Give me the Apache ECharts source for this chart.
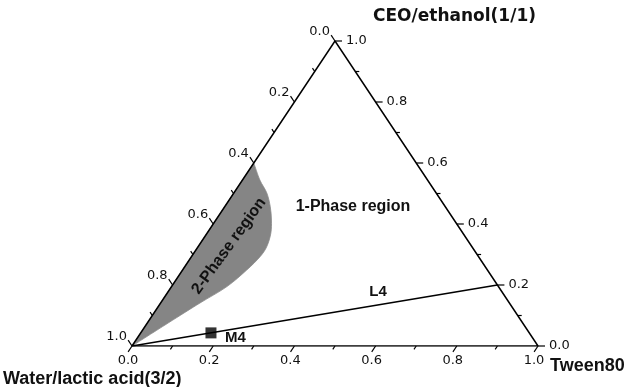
<!DOCTYPE html>
<html>
<head>
<meta charset="utf-8">
<script src="https://cdn.jsdelivr.net/npm/echarts@6/dist/echarts.min.js"></script>
<style>
  html, body { margin: 0; padding: 0; background: #fff; }
  #chart { width: 628px; height: 387px; }
</style>
</head>
<body>
<div id="chart"></div>
<script>
// Ternary diagram: Water/lactic acid (3/2), Tween80, CEO/ethanol (1/1).
// Compositions below are mass fractions; each point is [Tween80, CEO/ethanol],
// water/lactic acid being the remainder.

const tickValues = [0.0, 0.2, 0.4, 0.6, 0.8, 1.0];
const tickLabels = ['0.0', '0.2', '0.4', '0.6', '0.8', '1.0'];
const minorTickValues = [0.1, 0.3, 0.5, 0.7, 0.9];

// Boundary of the 2-phase region, from the 0.4 water point down to the water corner
const twoPhaseTween = [0.000, 0.043, 0.081, 0.112, 0.137, 0.157, 0.169, 0.169, 0.158, 0.136, 0.097, 0.058, 0.000];
const twoPhaseCeo   = [0.600, 0.544, 0.502, 0.457, 0.413, 0.370, 0.326, 0.293, 0.249, 0.194, 0.141, 0.085, 0.000];

// Dilution line L4 (Tween80 : CEO/ethanol = 80 : 20) and formulation M4 on it
const lineL4Tween = [0.0, 0.8];
const lineL4Ceo   = [0.0, 0.2];
const pointM4Tween = 0.173;
const pointM4Ceo   = 0.043;

// Map ternary fractions to the cartesian frame of the triangle
function toXY(tween, ceo) { return [tween + ceo / 2, ceo]; }

// Axis positions: 0 = bottom (Tween80), 1 = right (CEO/ethanol), 2 = left (water)
function axisPoint(axis, v) {
  if (axis === 0) return toXY(v, 0);
  if (axis === 1) return toXY(1 - v, v);
  return toXY(0, 1 - v);
}

const tickData = [];
[0, 1, 2].forEach(function (axis) {
  tickValues.forEach(function (v, i) { tickData.push([axis, v, 1, i]); });
  minorTickValues.forEach(function (v) { tickData.push([axis, v, 0, -1]); });
});

const twoPhasePoints = twoPhaseTween.map(function (t, i) { return toXY(t, twoPhaseCeo[i]); });
const l4Data = lineL4Tween.map(function (t, i) { return toXY(t, lineL4Ceo[i]); });
const triangle = [toXY(0, 0), toXY(1, 0), toXY(0, 1), toXY(0, 0)];

const tickFont = '13px "DejaVu Sans"';
const boldFont = '"Liberation Sans"';

function unit(a, b) {
  const dx = b[0] - a[0], dy = b[1] - a[1];
  const len = Math.sqrt(dx * dx + dy * dy);
  return [dx / len, dy / len];
}

function renderTick(params, api) {
  const axis = api.value(0);
  const v = api.value(1);
  const major = api.value(2) === 1;
  const labelIdx = api.value(3);
  const L = api.coord(toXY(0, 0));
  const R = api.coord(toXY(1, 0));
  const T = api.coord(toXY(0, 1));
  const p = api.coord(axisPoint(axis, v));
  let dir;
  if (axis === 0) dir = unit(T, L);      // bottom ticks lean down-left
  else if (axis === 1) dir = unit(L, R); // right ticks point right
  else dir = unit(R, T);                 // left ticks lean up-left
  const len = major ? 7 : 4;
  const children = [{
    type: 'line',
    shape: { x1: p[0], y1: p[1], x2: p[0] + dir[0] * len, y2: p[1] + dir[1] * len },
    style: { stroke: '#000', lineWidth: 1.2 }
  }];
  if (major) {
    let tx, ty, align;
    if (axis === 0) { tx = p[0] - 4; ty = p[1] + 15; align = 'center'; }
    else if (axis === 1) { tx = p[0] + 11; ty = p[1]; align = 'left'; }
    else { tx = p[0] - 5; ty = p[1] - 9; align = 'right'; }
    children.push({
      type: 'text', x: tx, y: ty,
      style: { text: tickLabels[labelIdx], fill: '#111', font: tickFont, align: align, verticalAlign: 'middle' }
    });
  }
  return { type: 'group', children: children };
}

// Smooth closed outline: Catmull-Rom through the boundary points, then straight back along the left edge
function renderRegion(params, api) {
  const pts = twoPhasePoints.map(function (d) { return api.coord(d); });
  let d = 'M' + pts[0][0] + ' ' + pts[0][1];
  for (let i = 0; i < pts.length - 1; i++) {
    const p0 = pts[Math.max(i - 1, 0)], p1 = pts[i], p2 = pts[i + 1], p3 = pts[Math.min(i + 2, pts.length - 1)];
    const c1x = p1[0] + (p2[0] - p0[0]) / 6, c1y = p1[1] + (p2[1] - p0[1]) / 6;
    const c2x = p2[0] - (p3[0] - p1[0]) / 6, c2y = p2[1] - (p3[1] - p1[1]) / 6;
    d += ' C' + c1x + ' ' + c1y + ' ' + c2x + ' ' + c2y + ' ' + p2[0] + ' ' + p2[1];
  }
  d += ' Z';
  return {
    type: 'path',
    shape: { pathData: d },
    style: { fill: '#858585', stroke: '#8c8c8c', lineWidth: 0.8 }
  };
}

const chart = echarts.init(document.getElementById('chart'), null, { renderer: 'canvas' });

chart.setOption({
  animation: false,
  backgroundColor: '#fff',
  grid: { left: 132, right: 90, top: 41, bottom: 41 },
  xAxis: { type: 'value', min: 0, max: 1, show: false },
  yAxis: { type: 'value', min: 0, max: 1, show: false },
  series: [
    {
      type: 'custom', renderItem: renderRegion, data: [0], z: 1, silent: true
    },
    {
      type: 'line', data: triangle, symbol: 'none', z: 3, silent: true,
      lineStyle: { color: '#000', width: 1.5 }
    },
    {
      type: 'line', data: l4Data, symbol: 'none', z: 3, silent: true,
      lineStyle: { color: '#000', width: 1.5 }
    },
    {
      type: 'custom', renderItem: renderTick, data: tickData, z: 4, silent: true
    },
    {
      type: 'scatter', data: [toXY(pointM4Tween, pointM4Ceo)], z: 5, silent: true,
      symbol: 'rect', symbolSize: 11,
      itemStyle: { color: '#000' }
    }
  ],
  graphic: [
    {
      type: 'text', left: 373, top: 8, z: 100,
      style: { text: 'CEO/ethanol(1/1)', fill: '#111', font: 'bold 17px "DejaVu Sans"' }
    },
    {
      type: 'text', x: 3, y: 379, z: 100,
      style: { text: 'Water/lactic acid(3/2)', fill: '#111', font: 'bold 18px ' + boldFont, verticalAlign: 'middle' }
    },
    {
      type: 'text', x: 550, y: 366, z: 100,
      style: { text: 'Tween80', fill: '#111', font: 'bold 18px ' + boldFont, verticalAlign: 'middle' }
    },
    {
      type: 'text', x: 353, y: 207, z: 100,
      style: { text: '1-Phase region', fill: '#111', font: 'bold 16px ' + boldFont, align: 'center', verticalAlign: 'middle' }
    },
    {
      type: 'text', x: 229, y: 246, rotation: 54 * Math.PI / 180, z: 100,
      style: { text: '2-Phase region', fill: '#111', font: 'bold 16px ' + boldFont, align: 'center', verticalAlign: 'middle' }
    },
    {
      type: 'text', x: 378, y: 292, z: 100,
      style: { text: 'L4', fill: '#111', font: 'bold 15px ' + boldFont, align: 'center', verticalAlign: 'middle' }
    },
    {
      type: 'text', x: 225, y: 338, z: 100,
      style: { text: 'M4', fill: '#111', font: 'bold 15px ' + boldFont, verticalAlign: 'middle' }
    }
  ]
});
</script>
</body>
</html>
